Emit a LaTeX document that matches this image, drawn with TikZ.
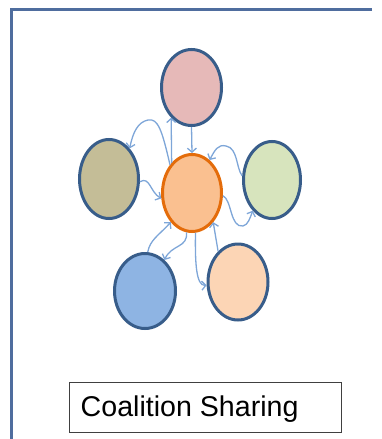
\documentclass[tikz,border=0pt]{standalone}
\usepackage{fontspec}
\setmainfont{Liberation Sans}
\usetikzlibrary{shapes.geometric,arrows.meta}
\definecolor{framecol}{HTML}{4F6D9E}
\definecolor{ringcol}{HTML}{385D8A}
\definecolor{orangering}{HTML}{E46C0A}
\definecolor{linkcol}{HTML}{7EA6D8}
\definecolor{pinkfill}{HTML}{E6B9B8}
\definecolor{olivefill}{HTML}{C4BD97}
\definecolor{orangefill}{HTML}{FAC090}
\definecolor{greenfill}{HTML}{D7E4BD}
\definecolor{bluefill}{HTML}{8EB4E3}
\definecolor{peachfill}{HTML}{FCD5B5}
\definecolor{boxcol}{HTML}{404040}
\tikzset{
  member/.style={ellipse, draw=ringcol, line width=3pt, inner sep=0pt},
  link/.style={draw=linkcol, line width=1.3pt, -{Straight Barb[length=4pt,width=9pt]}},
}
\begin{document}
\begin{tikzpicture}[x=1pt,y=-1pt]
\useasboundingbox (0,0) rectangle (381,439);
\clip (0,0) rectangle (381,439);
\draw[framecol, line width=3pt] (372,9) -- (11,9) -- (11,439);

\node[member, fill=pinkfill, minimum width=60pt, minimum height=76pt] (T) at (191.5,87.5) {};
\node[member, fill=olivefill, minimum width=59pt, minimum height=79pt] (L) at (109,179) {};
\node[member, fill=orangefill, draw=orangering, minimum width=59pt, minimum height=77pt] (C) at (192,193) {};
\node[member, fill=greenfill, minimum width=57pt, minimum height=77pt] (R) at (272,180) {};
\node[member, fill=bluefill, minimum width=61pt, minimum height=75pt] (BL) at (145,291) {};
\node[member, fill=peachfill, minimum width=60pt, minimum height=76pt] (BR) at (238,282) {};

\draw[link] (C.124) -- (T.236);
\draw[link] (T.south) -- (C.north);
\draw[link] (C.128) .. controls (162,130) and (158,118) .. (148,120) .. controls (138,122) and (133,132) .. (L.56);
\draw[link] (L.-5) .. controls (150,176) and (150,192) .. (C.190);
\draw[link] (R.172) .. controls (236,168) and (238,148) .. (226,146) .. controls (218,144) and (215,150) .. (C.62);
\draw[link] (C.-5) .. controls (232,200) and (230,228) .. (243,226) .. controls (248,225) and (250,218) .. (R.238);
\draw[link] (BL.86) .. controls (150,240) and (158,236) .. (C.234);
\draw[link] (C.262) .. controls (188,248) and (172,244) .. (BL.58);
\draw[link] (C.275) .. controls (195,262) and (196,286) .. (BR.186);
\draw[link] (BR.123) -- (C.306);

\node[draw=boxcol, line width=1.5pt, minimum width=272pt, minimum height=50pt, inner sep=0pt] (box) at (205.5,407.5) {};
\node[anchor=base west, inner sep=0pt, font=\fontsize{28.6}{30}\selectfont] (lbl) at (80.5,416.5) {Coalition Sharing};
\end{tikzpicture}
\end{document}
